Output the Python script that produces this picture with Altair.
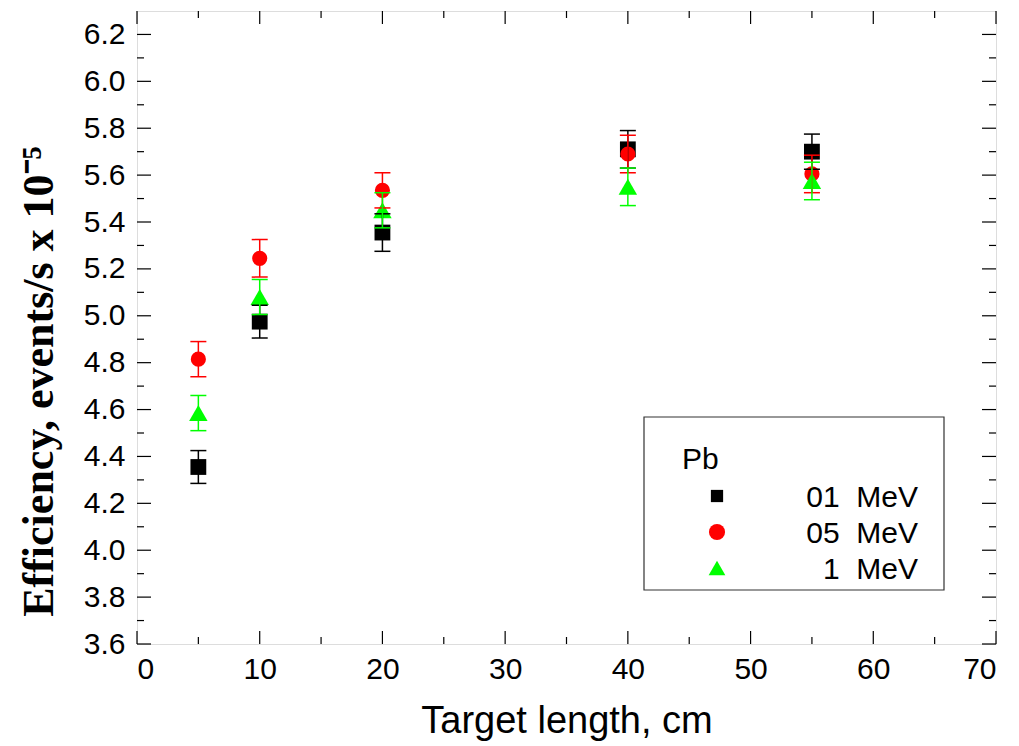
import altair as alt
import pandas as pd

# Measured efficiency vs. target length (Pb), three beam energies
target_length = [5, 10, 20, 40, 55]
series_names = ["01\u00a0\u00a0MeV", "05\u00a0\u00a0MeV", "1\u00a0\u00a0MeV"]
eff_01 = [4.355, 4.975, 5.355, 5.71, 5.70]
err_01 = [0.07, 0.07, 0.08, 0.08, 0.075]
eff_05 = [4.815, 5.245, 5.535, 5.69, 5.605]
err_05 = [0.075, 0.08, 0.075, 0.08, 0.08]
eff_1 = [4.585, 5.08, 5.45, 5.55, 5.575]
err_1 = [0.075, 0.075, 0.075, 0.08, 0.08]

colors = ["#000000", "#ff0000", "#00ff00"]
shapes = ["square", "circle", "triangle-up"]
sizes = [250, 230, 340]

x_major = [0, 10, 20, 30, 40, 50, 60, 70]
x_minor = [5, 15, 25, 35, 45, 55, 65]
y_major = [3.6, 3.8, 4.0, 4.2, 4.4, 4.6, 4.8, 5.0, 5.2, 5.4, 5.6, 5.8, 6.0, 6.2]
y_minor = [3.7, 3.9, 4.1, 4.3, 4.5, 4.7, 4.9, 5.1, 5.3, 5.5, 5.7, 5.9, 6.1]

W, H = 859, 633
SANS = "Liberation Sans"

xs = alt.Scale(domain=[0, 70], nice=False, zero=False)
ys = alt.Scale(domain=[3.6, 6.3], nice=False, zero=False)

x_axis = alt.Axis(
    values=x_major, ticks=False, domain=False, grid=False, format="d",
    labelFont=SANS, labelFontSize=30, labelColor="black", labelPadding=10,
    title="Target length, cm", titleFont=SANS, titleFontSize=38,
    titleFontWeight="normal", titleColor="black", titlePadding=18)
y_axis = alt.Axis(
    values=y_major, ticks=False, domain=False, grid=False, format=".1f",
    labelFont=SANS, labelFontSize=30, labelColor="black", labelPadding=12,
    title="Efficiency, events/s x 10\u207b\u2075", titleFont="Liberation Serif",
    titleFontSize=44, titleFontWeight="bold", titleColor="black",
    titleX=-85, titleY=370, titleBaseline="alphabetic", titleAngle=270)


def X(field):
    return alt.X(field, scale=xs, axis=x_axis)


def Y(field):
    return alt.Y(field, scale=ys, axis=y_axis)


frames = []
for name, vals, errs in zip(series_names, [eff_01, eff_05, eff_1], [err_01, err_05, err_1]):
    frames.append(pd.DataFrame({
        "x": target_length, "y": vals, "err": errs, "series": name,
    }))
df = pd.concat(frames, ignore_index=True)
df["lo"] = df["y"] - df["err"]
df["hi"] = df["y"] + df["err"]

layers = []


# Inward tick marks on all four sides
def tick_rules(vals, orient, length):
    d = pd.DataFrame({"v": vals})
    base = alt.Chart(d).mark_rule(color="black", strokeWidth=1.2)
    if orient == "bottom":
        return base.encode(x=X("v:Q"), y=alt.value(H), y2=alt.value(H - length))
    if orient == "top":
        return base.encode(x=X("v:Q"), y=alt.value(0), y2=alt.value(length))
    if orient == "left":
        return base.encode(y=Y("v:Q"), x=alt.value(0), x2=alt.value(length))
    return base.encode(y=Y("v:Q"), x=alt.value(W), x2=alt.value(W - length))


for side in ["bottom", "top"]:
    layers.append(tick_rules(x_major, side, 13))
    layers.append(tick_rules(x_minor, side, 7))
for side in ["left", "right"]:
    layers.append(tick_rules(y_major, side, 14))
    layers.append(tick_rules(y_minor, side, 7))

# Symbols
for name, col, shp, sz in zip(series_names, colors, shapes, sizes):
    sub = alt.Chart(df[df["series"] == name])
    layers.append(sub.mark_point(filled=True, shape=shp, size=sz, color=col, opacity=1).encode(
        x=X("x:Q"), y=Y("y:Q")))

# Error bars with caps
for name, col in zip(series_names, colors):
    sub = alt.Chart(df[df["series"] == name])
    layers.append(sub.mark_rule(color=col, strokeWidth=1.5).encode(
        x=X("x:Q"), y=Y("lo:Q"), y2="hi:Q"))
    for end in ["lo", "hi"]:
        layers.append(sub.mark_tick(color=col, orient="horizontal", size=16, thickness=1.5, opacity=1).encode(
            x=X("x:Q"), y=Y(f"{end}:Q")))

# Legend box
legend_df = pd.DataFrame({"series": series_names, "row": [0, 1, 2]})
layers.append(alt.Chart(pd.DataFrame({"a": [0]})).mark_rect(
    fill="white", stroke="#333333", strokeWidth=1.2).encode(
    x=alt.value(507), x2=alt.value(807), y=alt.value(406), y2=alt.value(579)))
layers.append(alt.Chart(pd.DataFrame({"t": ["Pb"]})).mark_text(
    font=SANS, fontSize=30, align="left", baseline="alphabetic", color="black").encode(
    text="t:N", x=alt.value(545), y=alt.value(458)))
for i, (name, col, shp) in enumerate(zip(series_names, colors, shapes)):
    row = legend_df[legend_df["row"] == i]
    cy = 485 + 36 * i
    layers.append(alt.Chart(row).mark_point(
        filled=True, shape=shp, size=[150, 260, 280][i], color=col, opacity=1).encode(
        x=alt.value(580), y=alt.value(cy)))
    layers.append(alt.Chart(row).mark_text(
        font=SANS, fontSize=30, align="right", baseline="alphabetic", color="black").encode(
        text="series:N", x=alt.value(781), y=alt.value(cy + 11)))

chart = alt.layer(*layers).properties(
    width=W, height=H,
    autosize=alt.AutoSizeParams(type="none"),
    padding={"left": 137, "top": 11, "right": 23, "bottom": 102},
).configure_view(stroke="black", strokeWidth=1.5).configure(background="white")

chart.save("out.html", embed_options={"renderer": "svg", "actions": False})
